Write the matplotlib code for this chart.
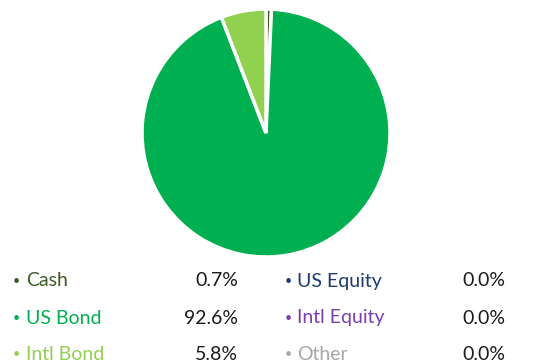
import matplotlib.pyplot as plt

W, H = 547, 364

labels = ["Cash", "US Bond", "Intl Bond", "US Equity", "Intl Equity", "Other"]
values = [0.7, 92.6, 5.8, 0.0, 0.0, 0.0]
colors = ["#3b5a23", "#00b050", "#92d050", "#1f3a6e", "#7a3fb0", "#a6a6a6"]

fig = plt.figure(figsize=(W / 100, H / 100), dpi=100)

# pie centred at (266, 133) px with radius 124 px
cx, cy, r = 266, 133, 124
side = 2.5 * r
pie_ax = fig.add_axes([(cx - side / 2) / W, (H - cy - side / 2) / H, side / W, side / H])
shown = [(v, c) for v, c in zip(values, colors) if v > 0]
pie_ax.pie([v for v, _ in shown], colors=[c for _, c in shown], startangle=90,
           counterclock=False, wedgeprops=dict(edgecolor="white", linewidth=2.5))

# legend table in pixel coordinates
ax = fig.add_axes([0, 0, 1, 1])
ax.set_xlim(0, W)
ax.set_ylim(H, 0)
ax.axis("off")

rows_y = [281, 318, 354]
cols = [(16, 26, 238), (288, 297, 505)]
for i, (lab, val, col) in enumerate(zip(labels, values, colors)):
    bx, lx, vx = cols[i // 3]
    y = rows_y[i % 3]
    ax.text(bx, y, "•", color=col, fontsize=9, ha="center", va="center", family="Lato")
    ax.text(lx, y, lab, color=col, fontsize=14, ha="left", va="center", family="Lato")
    ax.text(vx, y, f"{val:.1f}%", color="#1a1a1a", fontsize=14, ha="right", va="center",
            family="Lato")

fig.savefig("out.png", dpi=100)
